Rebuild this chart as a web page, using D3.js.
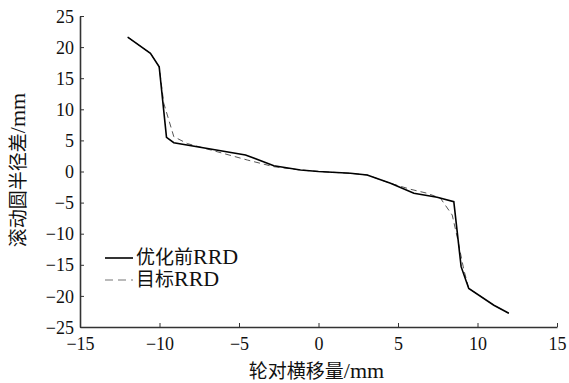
<!DOCTYPE html>
<html>
<head>
<meta charset="utf-8">
<script src="https://cdn.jsdelivr.net/npm/d3@7"></script>
<style>
  body { margin: 0; background: #fff; }
  text { font-family: "Liberation Serif", "Noto Sans CJK SC", serif; }
</style>
</head>
<body>
<div id="chart"></div>
<script>
// solid line: before optimisation
var before_x = [-12, -10.57, -10.02, -9.56, -9.1, -4.59, -2.81, -1.13, 0, 2.01, 3.06, 4.53, 6.0, 7.46, 8.51, 8.97, 9.45, 11.03, 11.97];
var before_y = [21.6, 19.0, 16.85, 5.5, 4.63, 2.65, 0.93, 0.24, 0, -0.29, -0.56, -1.9, -3.5, -4.15, -4.85, -15.3, -18.8, -21.5, -22.8];
// dashed line: target
var target_x = [-12, -10.57, -10.02, -9.73, -9.1, -8.26, -4.48, -2.81, -1.13, 0, 2.01, 3.06, 4.53, 5.79, 6.84, 7.67, 8.41, 8.72, 9.14, 9.45, 11.03, 11.97];
var target_y = [21.6, 19.0, 16.85, 10.96, 5.6, 4.5, 1.85, 0.77, 0.24, 0, -0.29, -0.56, -1.9, -2.86, -3.5, -4.3, -7.0, -10.5, -15.8, -18.8, -21.5, -22.8];
var x_ticks = [-15, -10, -5, 0, 5, 10, 15];
var y_ticks = [-25, -20, -15, -10, -5, 0, 5, 10, 15, 20, 25];
var legend_labels = [['优化前', 'RRD'], ['目标', 'RRD']];
var x_title = ['轮对横移量', '/mm'];
var y_title = ['滚动圆半径差', '/mm'];

var width = 569, height = 383;
var margin = {left: 80, right: 12, top: 16, bottom: 56};

var svg = d3.select('#chart').append('svg:svg')
  .attr('width', width)
  .attr('height', height);

var x = d3.scaleLinear().domain([-15, 15]).range([margin.left, width - margin.right]);
var y = d3.scaleLinear().domain([-25, 25]).range([height - margin.bottom, margin.top]);

function pts(xs, ys) {
  return xs.map(function(d, i) { return [d, ys[i]]; });
}

var line = d3.line()
  .x(function(d) { return x(d[0]); })
  .y(function(d) { return y(d[1]); });

// axes, ticks pointing inward
var xAxis = svg.append('g')
  .attr('transform', 'translate(0,' + y(-25) + ')')
  .call(d3.axisBottom(x).tickValues(x_ticks).tickSizeInner(-4).tickSizeOuter(0).tickPadding(8));
var yAxis = svg.append('g')
  .attr('transform', 'translate(' + x(-15) + ',0)')
  .call(d3.axisLeft(y).tickValues(y_ticks).tickSizeInner(-4).tickSizeOuter(0).tickPadding(6));

[xAxis, yAxis].forEach(function(ax) {
  ax.attr('font-family', '"Liberation Serif", serif').attr('font-size', 18);
  ax.select('.domain').attr('stroke', '#333').attr('stroke-width', 1.6);
  ax.selectAll('.tick line').attr('stroke', '#333');
  ax.selectAll('.tick text').attr('fill', '#111');
});
xAxis.selectAll('.tick text').attr('dy', '0.85em');
yAxis.selectAll('.tick text').attr('dy', '0.34em');

svg.append('path')
  .datum(pts(target_x, target_y))
  .attr('fill', 'none')
  .attr('stroke', '#555')
  .attr('stroke-width', 1)
  .attr('stroke-dasharray', '6,4')
  .attr('d', line);

svg.append('path')
  .datum(pts(before_x, before_y))
  .attr('fill', 'none')
  .attr('stroke', '#000')
  .attr('stroke-width', 1.6)
  .attr('d', line);

// mixed-size label: CJK part then latin part
function title(sel, parts) {
  sel.attr('fill', '#111');
  sel.append('tspan').attr('font-size', '19px').text(parts[0]);
  sel.append('tspan').attr('font-size', '22px').text(parts[1]);
  return sel;
}

// legend
var leg = svg.append('g');
legend_labels.forEach(function(lab, i) {
  var ly = 258 + i * 22;
  leg.append('line')
    .attr('x1', 105).attr('x2', 133)
    .attr('y1', ly).attr('y2', ly)
    .attr('stroke', i === 0 ? '#000' : '#777')
    .attr('stroke-width', i === 0 ? 1.6 : 1.2)
    .attr('stroke-dasharray', i === 0 ? null : '8,5');
  title(leg.append('text').attr('x', 136).attr('y', ly + 6), lab);
});

// axis titles
title(svg.append('text')
  .attr('x', x(0) - 2).attr('y', 378)
  .attr('text-anchor', 'middle'), x_title);

title(svg.append('text')
  .attr('transform', 'translate(25,' + 170 + ') rotate(-90)')
  .attr('text-anchor', 'middle'), y_title);
</script>
</body>
</html>
